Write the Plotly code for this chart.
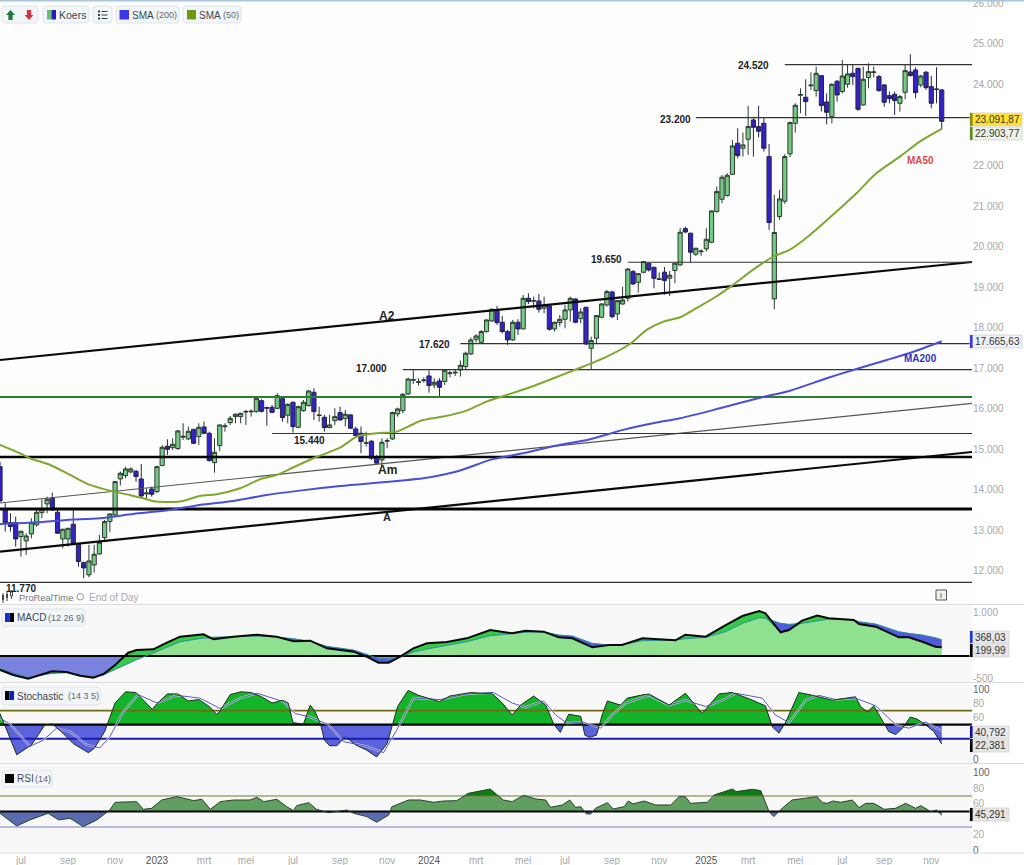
import numpy as np
import pandas as pd
import plotly.graph_objects as go

W, H = 1024, 865
START = "2022-06-06"

opens = [14574,13506,13193,13193,12848,12741,12914,13136,13440,13654,13793,13448,12790,12790,13152,12659,12207,11903,12149,12421,
12823,13218,13382,14270,14352,14443,14459,14270,13900,14023,13958,14599,15076,15043,15018,15300,15256,15495,15314,15552,
15396,14673,15092,15560,15659,15807,15807,15920,15925,15930,16202,16030,16037,16013,16251,15840,16161,15544,15955,16078,
16407,15835,15791,15536,15709,15906,15759,15850,15504,15397,15150,15200,14806,14740,15200,15258,15874,15956,16367,16705,
16650,16695,16811,16589,16688,16672,16870,16885,16959,17041,17354,17715,17641,17905,18168,18439,18135,17905,17699,18135,
17970,18727,18655,18661,18480,18537,17970,18126,18209,18439,18710,18225,18505,17493,17740,18258,18562,18883,18340,18587,
18727,19384,19121,19368,19590,19491,19190,19370,19222,19411,19550,20446,20331,19813,19875,19945,20109,20866,21170,21260,
21786,22551,22427,22649,23126,22962,23044,22222,18712,20742,21120,22288,23044,23735,23685,23970,23850,24219,23570,23208,
24080,23825,24006,24277,24400,23496,24170,24295,24195,23989,23726,23759,23537,23808,24310,24359,23989,24302,23948,23890,
23866]
highs = [14698,13670,13423,13341,12980,12930,13300,13506,13769,13834,13933,13506,13040,13060,13506,12684,12232,12643,12643,12889,
13259,13423,14210,14451,14574,14558,14492,14640,14040,14081,14590,15108,15248,15273,15478,15643,15561,15495,15643,15684,
15437,15273,15610,15643,15824,15889,15900,15972,15988,16270,16235,16054,16095,16383,16300,16136,16177,16078,16218,16465,
16506,16054,15848,15848,16013,16054,15973,15874,15562,15562,15438,15233,14863,15274,15274,15932,16030,16384,16754,16959,
16754,16770,16943,16754,16754,16959,16943,16959,17189,17411,17757,17839,17946,18209,18480,18537,18291,17946,18192,18209,
18809,18850,18768,18833,18768,18562,18151,18316,18562,18768,18727,18480,18521,17781,18316,18603,18932,18916,18685,19014,
19466,19425,19343,19640,19606,19507,19368,19500,19400,19600,20455,20496,20348,19970,19937,20455,20890,21482,21770,21811,
22633,22921,22814,23471,23167,23471,23167,22534,21277,21400,22280,23085,23537,23907,24129,24302,24441,24236,23784,24030,
24113,24606,24482,24499,24417,24441,24524,24441,24236,24014,23825,23825,23743,24482,24745,24425,24236,24335,24211,24425,
23891]
lows = [13700,12971,12971,12601,12355,12396,12807,13095,13300,13423,13480,12920,12560,12601,12643,12108,11820,11845,11960,12396,
12725,12955,13341,14106,14286,14410,14204,13793,13793,13834,13917,14590,14862,14985,14985,15232,15232,15133,15108,15372,
14698,14426,14960,15437,15602,15643,15643,15602,15807,15906,15906,15585,15889,15988,15684,15643,15413,15520,15930,16054,
15725,15684,15437,15520,15602,15710,15562,15504,15315,14904,15069,14740,14641,14575,15027,15233,15808,15891,16343,16614,
16573,16647,16400,16507,16285,16589,16778,16811,16795,16959,17329,17633,17617,17880,18151,18069,17863,17576,17674,17822,
17962,18587,18480,18373,18357,17929,17905,18028,17987,18151,18110,18110,17576,16976,17617,18233,18521,18233,18192,18562,
18644,19055,18866,19343,19384,18973,19179,18811,18786,19098,19526,20331,19608,19772,19772,19879,20085,20841,21071,21236,
21770,22181,22222,22263,22222,22699,22345,20414,18457,20660,21055,22206,22814,23291,23225,23866,23702,23332,23019,23044,
23578,23784,23923,23989,23348,23480,23907,24178,23825,23455,23537,23249,23332,23636,24195,23660,23932,23866,23414,23537,
22896]
closes = [13728,13193,13095,12790,12980,12864,13193,13448,13522,13769,13506,12930,13029,13053,12684,12232,12075,12248,12412,12708,
13218,13407,14204,14410,14517,14517,14328,13851,13925,13892,14574,15051,15002,15125,15454,15320,15446,15150,15544,15396,
14722,14928,15602,15578,15766,15865,15889,15935,15940,16259,15939,16018,15914,16325,15783,16111,15561,16054,16161,16440,
15931,15845,15536,15602,15807,15725,15866,15521,15340,15192,15160,14781,14658,15175,15215,15907,15997,16359,16737,16720,
16665,16710,16573,16655,16532,16951,16885,16900,17074,17370,17699,17798,17905,18192,18455,18126,17905,17699,18135,17970,
18727,18644,18670,18455,18546,17962,18135,18209,18439,18727,18135,18389,17600,17683,18299,18587,18891,18274,18669,18685,
19450,19080,19335,19631,19425,19220,19205,19164,19296,19592,20356,20364,19863,19961,19890,20183,20882,21359,21712,21762,
22485,22247,22510,22962,22945,22847,22427,20594,20348,21178,22222,23060,23488,23750,23578,23985,24277,23480,23315,24006,
23743,24211,24261,24195,23389,24129,24318,24310,23850,23562,23652,23603,23702,24343,24220,23800,24211,23923,23537,23880,
23092]

sma50_week = [0,3.8,5.7,9.6,13.4,17.2,21,24.8,28,29.9,34.4,38.2,41.4,45.9,49.7,52.9,56.1,59.9,65,68.2,72,75.8,80.3,84.7,89.2,93,97.5,101.3,105.8,110.2,116,120.4,123.6,126.8,130,133.1,136.9,140.1,143.9,147.8,150.9,154.8,159.9,163.7,167.5,172,175.8,180]
sma50 = [15108,14903,14780,14615,14369,14122,13982,13875,13769,13711,13711,13851,13892,14040,14262,14369,14558,14780,15040,15315,15397,15438,15701,15808,15956,16178,16367,16532,16754,16976,17288,17600,17946,18151,18258,18482,18770,19057,19427,19756,19920,20290,20866,21318,21811,22222,22592,22904]
sma200_week = [0,6.4,12.7,19.1,25.5,31.8,38.2,44.6,51,57.3,65,80.9,87.3,93.7,100,106.4,112.8,119.1,125.5,130,137.6,145.3,151,158,163.7,169.5,174.6,180]
sma200 = [13160,13193,13259,13300,13407,13489,13629,13728,13875,13982,14097,14288,14452,14740,14904,15093,15249,15480,15660,15766,16013,16274,16447,16753,16982,17204,17409,17666]

macd_week = [0,2.5,5.4,8.3,9.9,12.7,15.3,17.8,19.8,22,24.5,26.1,29.3,31.9,34.4,38.9,40.8,44.6,49.1,52.9,56.1,59.3,62.5,67.6,70.1,72.3,74.3,76.5,79,81.6,85.4,89.2,93.7,97.9,100.4,103.9,106.8,109.4,113.2,116.4,118.9,122.8,125.3,129.1,131,134.9,138.7,141.9,145.1,146.3,149.2,150.8,153.3,156.2,158.4,163.2,164.2,167.4,171.8,173.7,176.3,178.8,180]
macd = [-319,-433,-516,-410,-349,-364,-448,-493,-410,-205,75,136,151,303,439,492,379,439,485,439,333,348,174,98,-16,-152,-152,-16,174,288,318,401,591,515,576,553,424,401,197,250,250,401,379,356,485,439,704,909,1023,970,538,591,803,917,856,818,727,667,424,424,325,212,200]
signal = [-281,-387,-486,-425,-395,-379,-425,-470,-425,-304,-160,-84,68,204,325,409,428,439,454,432,394,333,219,136,30,-54,-76,-23,90,159,242,325,462,515,538,553,477,454,288,250,265,348,356,363,394,424,553,742,871,856,742,720,742,803,841,818,780,727,553,515,477,416,368]

stoch_k_week = [0,3.2,6,8.6,10,12,14,16.9,18,20,22,24,26,28,29.1,30,32,34,36,38,40,41.4,42,44,46,48,50,52,54,55.1,56,58,59.3,60.2,61.3,62,63,64.4,66,68,70,72,74,76,78,80,82,84,86,88,90,92,94,96,97.9,99.5,102,104.3,105.9,107.1,108.7,111,111.8,112.7,114,115.1,116.1,118.6,119.9,122.4,124,127.9,131,134.2,137.4,140,143.2,146.3,147.6,148.9,150.2,152.7,155.3,159.1,163.5,164.5,165.8,167,168.9,169.9,171.2,172.5,174,175.3,176.9,178.5,180]
stoch_k = [66,7,21,50,51,38,23,10,16,40,81,97,96,81,72,80,94,94,84,86,76,65,69,93,97,96,90,81,85,81,53,51,78,69,50,28,20,20,33,21,14,4,23,76,99,92,88,83,91,94,96,95,95,81,64,78,91,78,50,39,65,62,35,32,35,64,84,78,88,92,94,78,95,66,94,96,87,77,47,38,54,96,92,85,90,76,68,77,52,40,36,45,61,58,50,40,22.4]
stoch_d_week = [0,1.9,5.7,8.3,10.8,13.4,16.6,19.1,21,23.6,26.4,30,33.8,38.2,42.1,45.9,49.1,54.2,56.4,59.3,62.8,65.6,70.1,73.3,75.8,79,84.1,89.2,94.3,97.9,100.4,103.9,106.2,108.4,111.3,114.8,117,119.6,124,127.9,131,134.9,138.1,140.6,145.7,148.2,150.8,154,156.5,159.7,163.5,167.4,171.2,173.7,176.9,180]
stoch_d = [59,51,19,28,45,40,21,17,33,69,93,81,92,88,73,88,95,83,66,61,50,26,19,10,42,88,86,94,96,81,75,84,64,52,54,45,64,81,92,78,85,76,85,95,88,64,53,85,92,86,88,77,50,45,54,41]

rsi_week = [0,3.2,5.7,9.2,11.2,13.4,15.9,18.5,21,22,26.1,27.4,29,30.9,33.8,37,38.6,40.2,42.1,44.6,47.8,49.1,50.4,52.9,54.8,56.1,56.7,59,60.5,62.8,66.3,67.6,70.1,72,74.3,74.9,78.1,80.3,82.9,84.8,87.3,89.5,93.7,96.2,97.9,100.1,102.4,104.3,105.2,107.5,108.9,110,111,112.1,112.9,113.8,116.1,117.2,119.3,120.1,121,123.1,125.3,128.2,129.8,131,132,135.2,136.5,140,140.7,143.8,145.4,147,147.9,149.5,151.4,154,156.2,157.2,158.1,159.2,160.7,162.9,164.2,165.5,167,169,171.2,173.1,175,176,177.9,179,180]
rsi = [47.7,31.3,39.1,47.7,39.1,41.2,30.5,39.1,51.9,61.8,62.7,52.8,54.1,64.8,69.1,64,65.7,52.8,62.7,64.8,64.8,68.3,62.7,65.7,56.2,51.1,57.5,61.4,52.8,48.5,51.9,47.7,43.4,36.1,45.5,56.2,64.8,64.8,61.8,63.5,63.9,73.4,79,64.8,62.7,70.8,66.1,64.8,55.4,58.4,64.8,55.4,56.2,46.8,46.8,54.1,61.4,53.2,56.2,63.5,59.7,63.5,58.4,58.4,69.1,69.1,60.5,61.8,71.3,79,75.6,78.6,76.9,49.8,43.4,54.1,64.8,67,69.1,61.4,60.5,63.5,61.8,64.8,55,60.5,60.5,52.8,54.1,60.5,54.1,57.5,49.8,51.9,45.3]

tick_dates = ["2022-07-04","2022-09-05","2022-11-07","2023-01-02","2023-03-06","2023-05-01","2023-07-03","2023-09-04","2023-11-06","2024-01-01","2024-03-04","2024-05-06","2024-07-01","2024-09-02","2024-11-04","2025-01-06","2025-03-03","2025-05-05","2025-07-07","2025-09-01","2025-11-03"]
tick_names = ["jul","sep","nov","2023","mrt","mei","jul","sep","nov","2024","mrt","mei","jul","sep","nov","2025","mrt","mei","jul","sep","nov"]
price_ticks = [12000,13000,14000,15000,16000,17000,18000,19000,20000,21000,22000,24000,25000,26000]
price_tick_text = ["12.000","13.000","14.000","15.000","16.000","17.000","18.000","19.000","20.000","21.000","22.000","24.000","25.000","26.000"]

# full-width levels and dated levels (value, first week)
levels = [(15391,52),(16965,77),(17606,88),(19615,120),(23182,133),(24490,150),(11720,0)]
trend_weeks = [0, 185.8]
a2_line = [17204, 19622]
a_line = [12478, 14935]
am_line = [13677, 16134]


def px(x): return x / W
def py(y): return 1 - y / H
def dates(w): return pd.Timestamp(START) + pd.to_timedelta(np.asarray(w, dtype=float) * 7, unit="D")


fig = go.Figure()
END = pd.Timestamp(START) + pd.to_timedelta(1300.5, unit="D")
weeks_all = np.arange(len(opens))

panels = [(0, 604), (605, 682), (683, 763), (764, 853)]
dom = [[1 - b / H, 1 - t / H] for t, b in panels]
ranges = [[11185, 26085], [-591, 1159], [-4.7, 109.6], [-3.5, 111.2]]


def ln(xa, ya, w, v, color, width, **kw):
    fig.add_trace(go.Scatter(x=dates(w), y=v, mode="lines", line=dict(color=color, width=width),
                             hoverinfo="skip", showlegend=False, xaxis=xa, yaxis=ya, **kw))


def smooth(xa, ya, w, v, color, width):
    fig.add_trace(go.Scatter(x=dates(w), y=v, mode="lines", line=dict(color=color, width=width, shape="spline", smoothing=0.7),
                             hoverinfo="skip", showlegend=False, xaxis=xa, yaxis=ya))


def band(xa, ya, w, lo, hi, color):
    ln(xa, ya, w, lo, "rgba(0,0,0,0)", 0)
    ln(xa, ya, w, hi, "rgba(0,0,0,0)", 0, fill="tonexty", fillcolor=color)


def crossings(w, v, lvls):
    w2, v2 = [w[0]], [v[0]]
    for i in range(1, len(w)):
        a, b = v[i - 1], v[i]
        cuts = sorted([l for l in lvls if (a - l) * (b - l) < 0], reverse=a > b)
        for l in cuts:
            w2.append(w[i - 1] + (l - a) / (b - a) * (w[i] - w[i - 1]))
            v2.append(l)
        w2.append(w[i]); v2.append(b)
    return np.array(w2), np.array(v2, dtype=float)


# ---------- price ----------
fig.add_trace(go.Candlestick(
    x=dates(weeks_all), open=opens, high=highs, low=lows, close=closes,
    increasing=dict(fillcolor="#74cc84", line=dict(color="#2c3a30", width=1)),
    decreasing=dict(fillcolor="#3322c8", line=dict(color="#24244a", width=1)),
    hoverinfo="skip", showlegend=False, xaxis="x", yaxis="y"))
ln("x", "y", trend_weeks, am_line, "#555555", 1.2)
ln("x", "y", trend_weeks, a_line, "#0a0a0a", 2.2)
ln("x", "y", trend_weeks, a2_line, "#0a0a0a", 2.2)
ln("x", "y", trend_weeks, [16292, 16292], "#2e7d32", 2)
ln("x", "y", trend_weeks, [14811, 14811], "#050505", 2.4)
ln("x", "y", trend_weeks, [13528, 13528], "#050505", 3)
for val, wk in levels:
    ln("x", "y", [wk, trend_weeks[1]], [val, val], "#333333", 1.2)
smooth("x", "y", sma200_week, sma200, "#4a4fd6", 2)
smooth("x", "y", sma50_week, sma50, "#7fa82e", 2)

# ---------- MACD ----------
m = np.array(macd, float); s = np.array(signal, float); mw = np.array(macd_week, float)
lo = np.minimum(m, s); hi = np.maximum(m, s)
ln("x2", "y2", mw, np.maximum(lo, 0), "rgba(0,0,0,0)", 0, fill="tozeroy", fillcolor="#8fe08f")
ln("x2", "y2", mw, np.minimum(hi, 0), "rgba(0,0,0,0)", 0, fill="tozeroy", fillcolor="#7a82e0")
band("x2", "y2", mw, lo, s, "#4d5bdc")
band("x2", "y2", mw, lo, m, "#35cc45")
ln("x2", "y2", [0, 185.8], [0, 0], "#050505", 2)
ln("x2", "y2", mw, s, "#2b8a9c", 1)
ln("x2", "y2", mw, m, "#0a0a0a", 2)

# ---------- Stochastic ----------
kw, kv = crossings(stoch_k_week, stoch_k, [50])
band("x3", "y3", kw, np.full_like(kv, 50), np.maximum(kv, 50), "#14b42a")
band("x3", "y3", kw, np.full_like(kv, 50), np.minimum(kv, 50), "#5a62dc")
ln("x3", "y3", [0, 185.8], [70, 70], "#6f6a10", 1.8)
ln("x3", "y3", [0, 185.8], [50, 50], "#050505", 2.2)
ln("x3", "y3", [0, 185.8], [30, 30], "#1a1ab4", 2)
ln("x3", "y3", stoch_d_week, stoch_d, "rgba(255,255,255,0.55)", 2.4)
ln("x3", "y3", stoch_d_week, stoch_d, "#5757b8", 1)
ln("x3", "y3", stoch_k_week, stoch_k, "#1f2f1f", 1)

# ---------- RSI ----------
rw, rv = crossings(rsi_week, rsi, [50, 70])
band("x4", "y4", rw, np.full_like(rv, 50), np.clip(rv, 50, 70), "#5f9f5f")
band("x4", "y4", rw, np.full_like(rv, 70), np.maximum(rv, 70), "#0e7a12")
band("x4", "y4", rw, np.full_like(rv, 50), np.minimum(rv, 50), "#5a6cb0")
ln("x4", "y4", [0, 185.8], [70, 70], "#6f7a30", 1)
ln("x4", "y4", [0, 185.8], [30, 30], "#7a7ac8", 1.2)
ln("x4", "y4", [0, 185.8], [50, 50], "#050505", 2)
ln("x4", "y4", rsi_week, rsi, "#2a3f2a", 1)

# ---------- layout ----------
gray = "#a8a8a8"
xticks = [f'<span style="color:#555">{t}</span>' if t.isdigit() else t for t in tick_names]
axis_common = dict(type="date", range=[pd.Timestamp(START), END], domain=[0, 972 / W], showgrid=False,
                   zeroline=False, showline=False, ticks="", automargin=False, rangeslider=dict(visible=False))
layout = dict(width=W, height=H, autosize=False, margin=dict(l=0, r=0, t=0, b=0, pad=0),
              paper_bgcolor="#ffffff", plot_bgcolor="#fdfdfd", showlegend=False, boxgap=0.2, boxgroupgap=0,
              font=dict(family="Liberation Sans, Arial, sans-serif", size=10, color=gray))
for i, name in enumerate(["x", "x2", "x3", "x4"]):
    key = "xaxis" + name[1:]
    cfg = dict(axis_common, anchor="y" + name[1:], showticklabels=False)
    if i:
        cfg["matches"] = "x"
    if i == 3:
        cfg.update(showticklabels=True, tickmode="array", tickvals=tick_dates, ticktext=xticks,
                   tickangle=0, tickfont=dict(size=10, color=gray), ticklabeloverflow="allow")
    layout[key] = cfg


def yax(i, vals, text):
    return dict(domain=dom[i], range=ranges[i], side="right", anchor="x" + ("" if i == 0 else str(i + 1)),
                showgrid=False, zeroline=False, showline=False, ticks="", automargin=False, tickmode="array",
                tickvals=vals, ticktext=text, tickfont=dict(size=10, color=gray), ticklabeloverflow="allow")


dk = lambda t: f'<span style="color:#666">{t}</span>'
layout["yaxis"] = yax(0, price_ticks, price_tick_text)
layout["yaxis2"] = yax(1, [1000, -500], ["1.000", "-500"])
layout["yaxis3"] = yax(2, [100, 80, 60, 0], [dk("100"), "80", "60", dk("0")])
layout["yaxis4"] = yax(3, [100, 80, 60, 20, 0], [dk("100"), "80", "60", "20", dk("0")])
fig.update_layout(**layout)

# ---------- shapes ----------
shapes = []


def rect(x0, y0, x1, y1, fill, line=None, layer="above", lw=1):
    shapes.append(dict(type="rect", xref="paper", yref="paper", x0=px(x0), x1=px(x1), y0=py(y0), y1=py(y1),
                       fillcolor=fill, line=dict(color=line or "rgba(0,0,0,0)", width=lw if line else 0), layer=layer))


def poly(pts, fill, line=None, lw=0, closed=True):
    p = "M" + " L".join(f"{px(a):.5f},{py(b):.5f}" for a, b in pts) + (" Z" if closed else "")
    shapes.append(dict(type="path", xref="paper", yref="paper", path=p, fillcolor=fill,
                       line=dict(color=line or "rgba(0,0,0,0)", width=lw), layer="above"))


def chip(x0, y0, x1, y1):
    r = 3
    pts = f"M{px(x0+r):.5f},{py(y0):.5f} L{px(x1-r):.5f},{py(y0):.5f} Q{px(x1):.5f},{py(y0):.5f} {px(x1):.5f},{py(y0+r):.5f} " \
          f"L{px(x1):.5f},{py(y1-r):.5f} Q{px(x1):.5f},{py(y1):.5f} {px(x1-r):.5f},{py(y1):.5f} L{px(x0+r):.5f},{py(y1):.5f} " \
          f"Q{px(x0):.5f},{py(y1):.5f} {px(x0):.5f},{py(y1-r):.5f} L{px(x0):.5f},{py(y0+r):.5f} Q{px(x0):.5f},{py(y0):.5f} {px(x0+r):.5f},{py(y0):.5f} Z"
    shapes.append(dict(type="path", xref="paper", yref="paper", path=pts, fillcolor="#f3f6f9",
                       line=dict(color="#dfe5ea", width=1), layer="above"))


# panel backgrounds
for t, b in panels[1:]:
    rect(0, t, 972, b, "#f8f8f8", layer="below")
rect(0, 0, W, 1.6, "#a9c6db")
for y in (604.5, 682.5, 763.5, 853):
    rect(0, y - 0.6, W, y + 0.6, "#dcdcdc")

# toolbar chips
chip(2, 6, 38, 23); chip(43, 6, 89, 23); chip(93, 6, 112, 23); chip(116, 6, 179, 23); chip(183, 6, 241, 23)
poly([(10.5, 10), (15, 15), (12.6, 15), (12.6, 20), (8.4, 20), (8.4, 15), (6, 15)], "#1f7a3a")
poly([(29, 20), (33.5, 15), (31.1, 15), (31.1, 10), (26.9, 10), (26.9, 15), (24.5, 15)], "#d6323f")
rect(47, 10, 51.5, 19.5, "#66c07a"); rect(51.5, 10, 56, 19.5, "#2a18c4")
for yy in (11.5, 15, 18.5):
    rect(98, yy - 0.9, 100, yy + 0.9, "#2c3e50")
    rect(101.5, yy - 0.5, 107.5, yy + 0.5, "#2c3e50")
rect(119.5, 10, 129, 19.5, "#3b36e8"); rect(187, 10, 196, 19.5, "#6a9a10")

# indicator chips
chip(2, 609, 85, 626); rect(5, 613, 9.5, 622, "#1030d0"); rect(9.5, 613, 14, 622, "#000000")
chip(2, 687, 100, 705); rect(5, 691, 9.5, 700, "#000000"); rect(9.5, 691, 14, 700, "#1020b0")
chip(2, 770, 52, 787); rect(5, 774, 14, 783, "#000000")

# ProRealTime logo + info button
poly([(3, 593), (3, 603)], "rgba(0,0,0,0)", "#444", 1, closed=False)
poly([(7, 591), (7, 601)], "rgba(0,0,0,0)", "#444", 1, closed=False)
poly([(11.5, 590), (11.5, 599)], "rgba(0,0,0,0)", "#444", 1, closed=False)
rect(2, 595, 4, 600, "#444"); rect(6, 594, 8, 598, "#444"); rect(10.5, 592, 12.5, 596, "#ffffff", "#444")
rect(936, 590, 946.5, 600, "#eef1f3", "#555")
shapes.append(dict(type="circle", xref="paper", yref="paper", x0=px(77), x1=px(83.5), y0=py(600), y1=py(593.5),
                   fillcolor="rgba(0,0,0,0)", line=dict(color="#999", width=1), layer="above"))

# value badges
badges = [(970, 1022, 113, 126, "#ffe033", "#8a8a1a", "23.091,87"),
          (970, 1022, 127, 140, "#eef3ea", "#5f8f16", "22.903,77"),
          (970, 1022, 335, 348, "#eef0fa", "#3a3ad0", "17.665,63"),
          (970, 1009, 631, 643, "#e6e8ee", "#1a3ad0", "368,03"),
          (970, 1009, 644, 657, "#e4e4e4", "#000000", "199,99"),
          (970, 1009, 726, 738, "#e6e8ee", "#1010a0", "40,792"),
          (970, 1009, 739, 752, "#e4e4e4", "#000000", "22,381"),
          (970, 1009, 808, 821, "#e4e4e4", "#000000", "45,291")]
ann = []


def txt(x, y, t, size=10, color="#333", bold=False, anchor="center"):
    ann.append(dict(xref="paper", yref="paper", x=px(x), y=py(y), text=f"<b>{t}</b>" if bold else t, showarrow=False,
                    font=dict(size=size, color=color, family="Liberation Sans, Arial, sans-serif"),
                    xanchor=anchor, yanchor="middle", borderpad=0))


for x0, x1, y0, y1, fill, bar, t in badges:
    rect(x0, y0, x1, y1, fill, "#d8d8d8")
    rect(x0, y0, x0 + 2.6, y1, bar)
    txt(x0 + 3.5, (y0 + y1) / 2, t, 10, "#333", anchor="left")

# toolbar text
txt(58, 15, "Koers", 10.5, "#3a4650", anchor="left")
txt(131, 15, "SMA", 10, "#3a4650", anchor="left"); txt(155, 15, "(200)", 9, "#5a6670", anchor="left")
txt(198, 15, "SMA", 10, "#3a4650", anchor="left"); txt(222, 15, "(50)", 9, "#5a6670", anchor="left")
txt(16, 617.5, "MACD", 10, "#3a4650", anchor="left"); txt(47, 617.5, "(12 26 9)", 9, "#5a6670", anchor="left")
txt(16, 696, "Stochastic", 10, "#3a4650", anchor="left"); txt(67, 696, "(14 3 5)", 9, "#5a6670", anchor="left")
txt(16, 778.5, "RSI", 10, "#3a4650", anchor="left"); txt(34, 778.5, "(14)", 9, "#5a6670", anchor="left")
txt(18, 597, "ProRealTime", 9.4, "#777", anchor="left"); txt(88, 597, "End of Day", 10, "#aaa", anchor="left")
txt(941.2, 595, "i", 8, "#333")

# chart notes
b = "#222"
txt(753, 65, "24.520", 10, b, True); txt(675, 120, "23.200", 10, b, True)
txt(606, 259, "19.650", 10, b, True); txt(434, 344, "17.620", 10, b, True)
txt(371, 368, "17.000", 10, b, True); txt(309, 440, "15.440", 10, b, True)
txt(21, 588, "11.770", 10, b, True)
txt(387, 316, "A2", 12, b, True); txt(387, 470, "Am", 12, b, True); txt(387, 517, "A", 11, b, True)
txt(920, 160, "MA50", 10, "#e04848", True); txt(920, 358, "MA200", 10, "#2f35c0", True)

fig.update_layout(shapes=shapes, annotations=ann)
fig.write_html("out.html", config={"displayModeBar": False},
               post_script="document.body.style.margin='0';document.body.style.overflow='hidden';")
